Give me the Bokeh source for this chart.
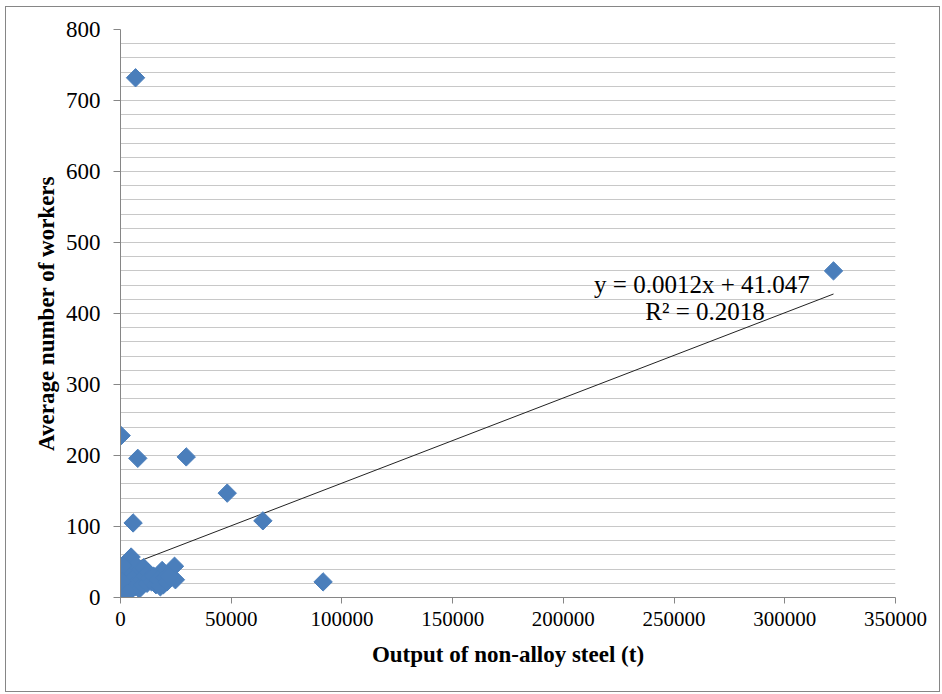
import numpy as np
from bokeh.plotting import figure
from bokeh.models import (ColumnDataSource, SingleIntervalTicker, Label,
                          NumeralTickFormatter, InlineStyleSheet)
from bokeh.embed import file_html
from bokeh.resources import INLINE

# ---- data ----
output_t = [6800, 322000, 300, 7800, 29700, 48200, 64300, 5700, 91500,
            4800, 5200, 24400, 24800, 18800, 19400,
            200, 500, 800, 1200, 1500, 2000, 2500, 3000, 300, 1000, 3500,
            4000, 5500, 6000, 6500, 7000, 7500, 8000, 8500, 9000, 9500,
            10000, 10500, 11000, 12000, 12500, 13000, 14000, 15000, 16000,
            17000, 18000, 20000, 21000, 22000, 2000, 1000, 600, 3000]
workers = [732, 460, 228, 196, 198, 147, 108, 105, 22,
           57, 50, 44, 25, 38, 18,
           5, 10, 3, 15, 8, 20, 12, 25, 36, 30, 40,
           18, 35, 28, 15, 45, 22, 33, 12, 40, 25,
           18, 42, 30, 20, 35, 27, 22, 30, 18,
           25, 15, 28, 22, 30, 2, 45, 22, 6]

trend_slope = 0.0012
trend_intercept = 41.047
trend_text = "y = 0.0012x  + 41.047"
r2_text = "R² = 0.2018"

x_ticks = [0, 50000, 100000, 150000, 200000, 250000, 300000, 350000]
x_label = "Output of non-alloy steel (t)"
y_label = "Average number of workers"

FONT = "Liberation Serif"
BLUE = "#4A7EBB"

border_css = InlineStyleSheet(css="""
:host { position: relative; }
:host::after {
  content: ''; position: absolute; left: 5px; top: 6px; right: 2px; bottom: 2px;
  border: 1.5px solid #868686; pointer-events: none; z-index: 10;
}
""")

p = figure(width=942, height=694, output_backend="svg", toolbar_location=None,
           x_range=(0, 350000), y_range=(0, 800),
           min_border_left=120, min_border_right=47, min_border_top=29,
           min_border_bottom=97, frame_width=775, frame_height=568,
           stylesheets=[border_css])
p.outline_line_color = None
p.background_fill_color = "white"
p.border_fill_color = "white"

# grid
p.xgrid.grid_line_color = None
p.yaxis.ticker = SingleIntervalTicker(interval=100, num_minor_ticks=5)
p.ygrid.grid_line_color = "#C8C8C8"
p.ygrid.minor_grid_line_color = "#C8C8C8"
p.ygrid.grid_line_width = 1

# x axis
p.xaxis.ticker = x_ticks
p.xaxis.formatter = NumeralTickFormatter(format="0")
p.xaxis.axis_line_color = "#868686"
p.xaxis.major_tick_line_color = "#868686"
p.xaxis.major_tick_out = 6
p.xaxis.major_tick_in = 0
p.xaxis.minor_tick_line_color = None
p.xaxis.major_label_text_font = FONT
p.xaxis.major_label_text_font_size = "21px"
p.xaxis.major_label_text_color = "black"
p.xaxis.major_label_standoff = 8
p.xaxis.axis_label = x_label
p.xaxis.axis_label_text_font = FONT
p.xaxis.axis_label_text_font_size = "23px"
p.xaxis.axis_label_text_font_style = "bold"
p.xaxis.axis_label_text_color = "black"
p.xaxis.axis_label_standoff = 13

# y axis
p.yaxis.axis_line_color = "#868686"
p.yaxis.major_tick_line_color = "#868686"
p.yaxis.major_tick_out = 7
p.yaxis.major_tick_in = 0
p.yaxis.minor_tick_line_color = None
p.yaxis.major_label_text_font = FONT
p.yaxis.major_label_text_font_size = "23px"
p.yaxis.major_label_text_color = "black"
p.yaxis.major_label_standoff = 13
p.yaxis.axis_label = y_label
p.yaxis.axis_label_text_font = FONT
p.yaxis.axis_label_text_font_size = "23px"
p.yaxis.axis_label_text_font_style = "bold"
p.yaxis.axis_label_text_color = "black"
p.yaxis.axis_label_standoff = 4

# trend line
x_max = max(output_t)
tx = [0, x_max]
ty = [trend_intercept + trend_slope * v for v in tx]
p.line(tx, ty, line_color="#222222", line_width=1)

# points
src = ColumnDataSource(dict(x=output_t, y=workers))
p.scatter("x", "y", source=src, marker="square", angle=np.pi / 4, size=13,
          fill_color=BLUE, line_color=BLUE)

# equation labels
p.add_layout(Label(x=264000, y=441, text=trend_text, text_font=FONT,
                   text_font_size="25px", text_align="center",
                   text_baseline="middle", text_color="black"))
p.add_layout(Label(x=264000, y=403, text=r2_text, text_font=FONT,
                   text_font_size="25px", text_align="center",
                   text_baseline="middle", text_color="black"))

open("out.html", "w").write(file_html(p, INLINE))
